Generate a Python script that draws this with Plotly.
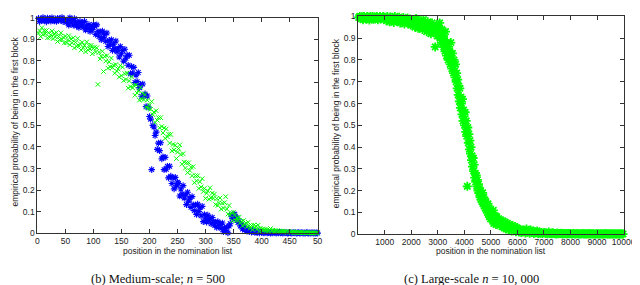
import plotly.graph_objects as go

# ---------------- data ----------------
# Medium-scale (n = 500): positions and empirical probabilities
pos_medium = list(range(2, 501, 2))

blue_vals = [
    0.996, 0.981, 0.992, 0.987, 1.0, 0.985, 0.991, 0.98, 0.998, 0.988, 0.994, 0.983, 0.999, 0.99, 0.984, 0.993, 0.982, 0.997, 0.989, 0.995, 0.986, 1.0, 0.981, 0.992, 0.987,
    0.978, 0.988, 0.965, 0.999, 0.978, 0.988, 0.964, 0.995, 0.975, 0.961, 0.978, 0.954, 0.982, 0.965, 0.975, 0.955, 0.982, 0.942, 0.962, 0.951, 0.967, 0.935, 0.956, 0.944, 0.968,
    0.96, 0.922, 0.966, 0.934, 0.912, 0.934, 0.897, 0.937, 0.908, 0.922, 0.89, 0.928, 0.866, 0.894, 0.875, 0.897, 0.848, 0.876, 0.856, 0.891, 0.841, 0.855, 0.817, 0.866, 0.832,
    0.847, 0.798, 0.853, 0.811, 0.825, 0.779, 0.825, 0.739, 0.773, 0.743, 0.769, 0.699, 0.733, 0.703, 0.745, 0.675, 0.689, 0.635, 0.692, 0.637, 0.646, 0.587, 0.636, 0.585, 0.541,
    0.529, 0.295, 0.5, 0.493, 0.453, 0.469, 0.389, 0.418, 0.383, 0.42, 0.345, 0.354, 0.295, 0.352, 0.297, 0.311, 0.257, 0.311, 0.265, 0.231, 0.257, 0.206, 0.259, 0.22, 0.237,
    0.231, 0.173, 0.205, 0.182, 0.221, 0.163, 0.178, 0.133, 0.19, 0.149, 0.164, 0.12, 0.17, 0.132, 0.105, 0.131, 0.087, 0.135, 0.101, 0.118, 0.081, 0.125, 0.054, 0.087, 0.066,
    0.052, 0.084, 0.061, 0.07, 0.044, 0.073, 0.052, 0.037, 0.052, 0.027, 0.054, 0.035, 0.044, 0.023, 0.048, 0.007, 0.026, 0.013, 0.028, 0.002, 0.034, 0.044, 0.085, 0.068, 0.087,
    0.088, 0.068, 0.072, 0.05, 0.055, 0.034, 0.04, 0.02, 0.033, 0.015, 0.024, 0.01, 0.02, 0.008, 0.016, 0.005, 0.012, 0.011, 0.004, 0.009, 0.003, 0.01, 0.002, 0.007, 0.004,
    0.005, 0.002, 0.004, 0.006, 0.002, 0.003, 0.005, 0.001, 0.004, 0.002, 0.006, 0.003, 0.001, 0.004, 0.002, 0.005, 0.002, 0.003, 0.001, 0.004, 0.002, 0.003, 0.001, 0.002, 0.004,
    0.002, 0.001, 0.003, 0.002, 0.004, 0.001, 0.002, 0.003, 0.001, 0.002, 0.003, 0.001, 0.002, 0.001, 0.003, 0.002, 0.001, 0.002, 0.001, 0.003, 0.001, 0.002, 0.001, 0.002, 0.001,
]

green_vals = [
    0.928, 0.938, 0.912, 0.953, 0.921, 0.939, 0.925, 0.94, 0.906, 0.929, 0.908, 0.92, 0.938, 0.902, 0.924, 0.91, 0.93, 0.889, 0.912, 0.897, 0.929, 0.898, 0.908, 0.882, 0.914,
    0.883, 0.896, 0.916, 0.874, 0.9, 0.883, 0.906, 0.859, 0.885, 0.867, 0.903, 0.868, 0.879, 0.849, 0.885, 0.86, 0.871, 0.841, 0.887, 0.85, 0.87, 0.854, 0.871, 0.832, 0.857,
    0.863, 0.84, 0.86, 0.69, 0.839, 0.808, 0.821, 0.844, 0.75, 0.82, 0.798, 0.823, 0.765, 0.794, 0.771, 0.812, 0.768, 0.779, 0.742, 0.782, 0.751, 0.761, 0.724, 0.777, 0.73,
    0.77, 0.708, 0.74, 0.713, 0.742, 0.673, 0.706, 0.679, 0.725, 0.674, 0.685, 0.64, 0.687, 0.65, 0.661, 0.617, 0.677, 0.622, 0.648, 0.62, 0.643, 0.584, 0.617, 0.579, 0.594,
    0.575, 0.611, 0.55, 0.562, 0.514, 0.568, 0.524, 0.536, 0.489, 0.536, 0.495, 0.465, 0.488, 0.44, 0.484, 0.447, 0.459, 0.418, 0.458, 0.382, 0.412, 0.386, 0.408, 0.346, 0.376,
    0.393, 0.41, 0.365, 0.32, 0.369, 0.33, 0.302, 0.327, 0.281, 0.327, 0.291, 0.306, 0.267, 0.309, 0.235, 0.267, 0.243, 0.267, 0.208, 0.239, 0.215, 0.253, 0.194, 0.208, 0.162,
    0.186, 0.196, 0.158, 0.211, 0.164, 0.186, 0.163, 0.182, 0.133, 0.161, 0.129, 0.142, 0.164, 0.112, 0.14, 0.117, 0.142, 0.17, 0.112, 0.089, 0.129, 0.085, 0.095, 0.058, 0.098,
    0.085, 0.059, 0.071, 0.06, 0.075, 0.049, 0.055, 0.035, 0.059, 0.041, 0.047, 0.029, 0.051, 0.035, 0.024, 0.036, 0.017, 0.038, 0.025, 0.033, 0.018, 0.038, 0.009, 0.024, 0.016,
    0.02, 0.014, 0.018, 0.012, 0.017, 0.01, 0.015, 0.022, 0.011, 0.014, 0.008, 0.013, 0.009, 0.012, 0.007, 0.011, 0.006, 0.01, 0.005, 0.009, 0.006, 0.008, 0.004, 0.007, 0.005,
    0.006, 0.004, 0.007, 0.003, 0.005, 0.004, 0.006, 0.002, 0.004, 0.003, 0.005, 0.002, 0.003, 0.004, 0.002, 0.003, 0.001, 0.003, 0.002, 0.001, 0.002, 0.003, 0.001, 0.002, 0.001,
]

# Large-scale (n = 10,000): sampled positions (denser where the curve falls steeply)
pos_large_head = list(range(20, 3000, 40))
pos_large_mid = list(range(3010, 5200, 20))
pos_large_tail = list(range(5220, 10000, 40))

large_head_vals = [
    0.995, 1.0, 0.99, 0.998, 0.985, 1.0, 0.993, 0.988, 1.0, 0.996, 0.983, 0.999, 0.991, 1.0, 0.987, 0.997, 0.992, 1.0, 0.984, 0.995, 0.999, 0.989, 0.994, 1.0, 0.986,
    0.993, 0.98, 1.0, 0.988, 0.975, 0.997, 0.985, 0.992, 0.972, 1.0, 0.982, 0.99, 0.978, 0.996, 0.97, 0.988, 0.983, 0.995, 0.965, 0.985, 0.978, 0.992, 0.97, 0.987, 0.96,
    0.985, 0.96, 0.975, 0.95, 0.99, 0.965, 0.945, 0.98, 0.955, 0.97, 0.94, 0.985, 0.95, 0.965, 0.93, 0.975, 0.945, 0.96, 0.92, 0.97, 0.935, 0.95, 0.86, 0.96, 0.91,
]
large_mid_vals = [
    0.95, 0.91, 0.93, 0.97, 0.9, 0.92, 0.88, 0.94, 0.9, 0.87,
    0.91, 0.86, 0.89, 0.84, 0.93, 0.87, 0.82, 0.88, 0.85, 0.8,
    0.86, 0.81, 0.84, 0.78, 0.88, 0.8, 0.76, 0.83, 0.79, 0.74,
    0.8, 0.75, 0.72, 0.78, 0.7, 0.74, 0.67, 0.71, 0.64, 0.68,
    0.61, 0.67, 0.58, 0.63, 0.6, 0.55, 0.62, 0.52, 0.57, 0.54,
    0.5, 0.56, 0.47, 0.52, 0.45, 0.22, 0.49, 0.42, 0.46, 0.39,
    0.43, 0.37, 0.4, 0.34, 0.36, 0.31, 0.35, 0.29, 0.32, 0.26,
    0.28, 0.24, 0.27, 0.22, 0.25, 0.2, 0.23, 0.19, 0.21, 0.17,
    0.2, 0.16, 0.18, 0.15, 0.19, 0.14, 0.17, 0.13, 0.15, 0.12,
    0.15, 0.11, 0.13, 0.1, 0.14, 0.09, 0.12, 0.08, 0.11, 0.07,
    0.1, 0.07, 0.09, 0.06, 0.11, 0.05, 0.08, 0.06, 0.085, 0.045,
]
large_tail_vals = [
    0.08, 0.05, 0.07, 0.04, 0.065, 0.035, 0.06, 0.03, 0.055, 0.025,
    0.05, 0.02, 0.045, 0.03, 0.015, 0.04, 0.02, 0.035, 0.012, 0.03,
    0.025, 0.01, 0.022, 0.008, 0.02, 0.012, 0.018, 0.006, 0.024, 0.01, 0.015, 0.005, 0.02, 0.008, 0.014, 0.004, 0.012, 0.007, 0.015, 0.003, 0.01, 0.005, 0.008, 0.003, 0.007,
    0.008, 0.003, 0.006, 0.002, 0.01, 0.004, 0.005, 0.002, 0.007, 0.003, 0.004, 0.001, 0.006, 0.002, 0.004, 0.003, 0.005, 0.001, 0.003, 0.002, 0.004, 0.001, 0.003, 0.002, 0.003,
    0.002, 0.001, 0.003, 0.002, 0.001, 0.002, 0.003, 0.001, 0.002, 0.001, 0.002, 0.003, 0.001, 0.002, 0.001, 0.002, 0.001, 0.003, 0.001, 0.002, 0.001, 0.002, 0.001, 0.001, 0.002,
    0.001, 0.002, 0.001, 0.002, 0.001, 0.001, 0.002, 0.001, 0.003, 0.001, 0.001, 0.002, 0.001, 0.002, 0.001, 0.001, 0.002, 0.001, 0.001, 0.002, 0.001, 0.001, 0.002, 0.001, 0.001,
]

pos_large = pos_large_head + pos_large_mid + pos_large_tail
large_vals = large_head_vals + large_mid_vals + large_tail_vals

# tick labels
medium_xticks = [0, 50, 100, 150, 200, 250, 300, 350, 400, 450, 500]
medium_xticktext = ["0", "50", "100", "150", "200", "250", "300", "350", "400", "450", "50"]
large_xticks = [1000, 2000, 3000, 4000, 5000, 6000, 7000, 8000, 9000, 10000]
large_xticktext = ["1000", "2000", "3000", "4000", "5000", "6000", "7000", "8000", "9000", "10000"]
yticks = [0, 0.1, 0.2, 0.3, 0.4, 0.5, 0.6, 0.7, 0.8, 0.9, 1]
yticktext = ["0", "0.1", "0.2", "0.3", "0.4", "0.5", "0.6", "0.7", "0.8", "0.9", "1"]

x_title = "position in the nomination list"
y_title = "empirical probability of being in the first block"
caption_b = "(b) Medium-scale; <i>n</i> = 500"
caption_c = "(c) Large-scale <i>n</i> = 10, 000"

# ---------------- figure ----------------
W, H = 640, 285
BLUE = "#0000ff"
GREEN = "#00ff00"

fig = go.Figure()
fig.add_trace(go.Scatter(
    x=pos_medium, y=blue_vals, mode="markers", xaxis="x", yaxis="y", cliponaxis=False,
    marker=dict(symbol="asterisk-open", size=5.5, color=BLUE, line=dict(color=BLUE, width=1.1)),
))
fig.add_trace(go.Scatter(
    x=pos_medium, y=green_vals, mode="markers", xaxis="x", yaxis="y", cliponaxis=False,
    marker=dict(symbol="x-thin-open", size=4.5, color=GREEN, line=dict(color=GREEN, width=1)),
))
fig.add_trace(go.Scatter(
    x=pos_large, y=large_vals, mode="markers", xaxis="x2", yaxis="y2", cliponaxis=False,
    marker=dict(symbol="asterisk-open", size=7.5, color=GREEN, line=dict(color=GREEN, width=1.8)),
))

tickfont = dict(family="Liberation Sans, Arial, sans-serif", size=8.5, color="#222")
common_axis = dict(
    showgrid=False, zeroline=False, showline=True, mirror="ticks", linecolor="#333",
    linewidth=1, ticks="inside", ticklen=4, tickcolor="#333", tickfont=tickfont,
    tickmode="array", ticklabeloverflow="allow",
)

fig.update_layout(
    width=W, height=H,
    margin=dict(l=0, r=0, t=0, b=0),
    paper_bgcolor="white", plot_bgcolor="white",
    showlegend=False,
    xaxis=dict(common_axis, domain=[28 / W, 314.5 / W], range=[0, 500], anchor="y",
               tickvals=medium_xticks, ticktext=medium_xticktext),
    yaxis=dict(common_axis, domain=[(H - 228.3) / H, (H - 4.7) / H], range=[0, 1], anchor="x",
               tickvals=yticks, ticktext=yticktext),
    xaxis2=dict(common_axis, domain=[356 / W, 627.3 / W], range=[0, 10000], anchor="y2",
                tickvals=large_xticks, ticktext=large_xticktext),
    yaxis2=dict(common_axis, domain=[(H - 229.3) / H, (H - 3.5) / H], range=[0, 1], anchor="x2",
                tickvals=yticks, ticktext=yticktext),
)

label_font = dict(family="Liberation Sans, Arial, sans-serif", size=8.5, color="#222")
cap_font = dict(family="Liberation Serif, Times New Roman, serif", size=12.5, color="#111")

annotations = [
    dict(text=x_title, x=171.5 / W, y=(H - 246.7) / H, font=label_font),
    dict(text=x_title, x=491.5 / W, y=(H - 246.7) / H, font=label_font),
    dict(text=y_title, x=5.5 / W, y=(H - 112) / H, textangle=-90, font=label_font),
    dict(text=y_title, x=333.5 / W, y=(H - 114) / H, textangle=-90, font=label_font),
    dict(text=caption_b, x=151 / W, y=(H - 275.5) / H, font=cap_font),
    dict(text=caption_c, x=472 / W, y=(H - 275.5) / H, font=cap_font),
]
for a in annotations:
    a.update(xref="paper", yref="paper", showarrow=False, xanchor="center", yanchor="middle")
fig.update_layout(annotations=annotations)

fig.write_html("out.html")
